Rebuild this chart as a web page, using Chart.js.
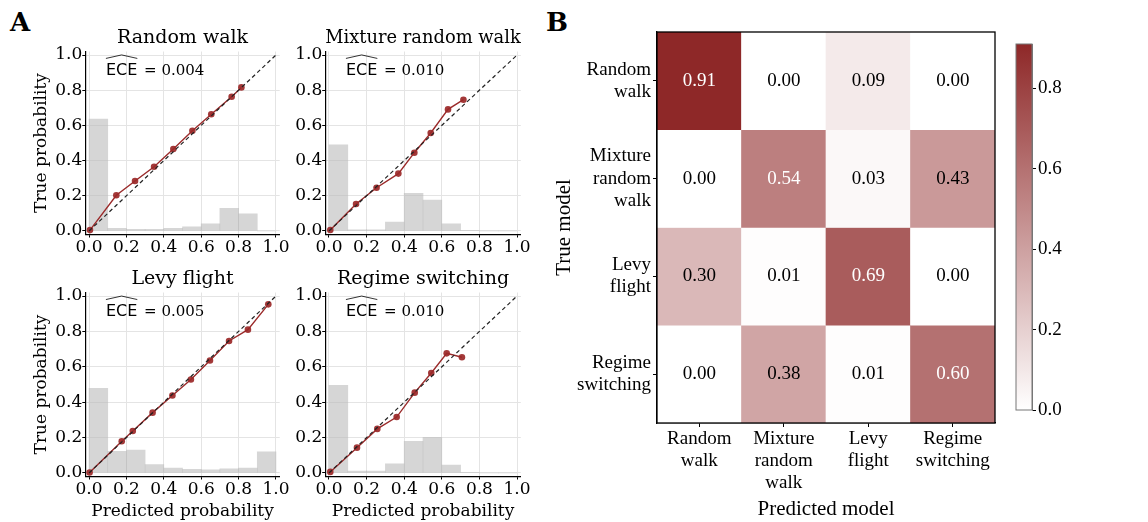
<!DOCTYPE html>
<html lang="en">
<head>
<meta charset="UTF-8">
<title>Calibration and confusion matrix</title>
<script src="https://cdn.jsdelivr.net/npm/chart.js"></script>
<style>
  body { margin: 0; background: #fff; }
  #fig { position: relative; width: 1148px; height: 522px; overflow: hidden; background: #fff; }
  canvas { position: absolute; }
  .panel { position: absolute; font-family: "DejaVu Serif", serif; font-weight: bold; font-size: 26px; line-height: 26px; color: #000; }
</style>
</head>
<body>
<div id="fig">
  <div class="panel" style="left:10px;top:9px">A</div>
  <div class="panel" style="left:546px;top:9px">B</div>
  <canvas id="rw" width="290" height="262" style="left:0;top:0"></canvas>
  <canvas id="mrw" width="250" height="262" style="left:290px;top:0"></canvas>
  <canvas id="lf" width="290" height="260" style="left:0;top:262px"></canvas>
  <canvas id="rs" width="250" height="260" style="left:290px;top:262px"></canvas>
  <canvas id="cm" width="470" height="522" style="left:540px;top:0"></canvas>
  <canvas id="cbar" width="148" height="522" style="left:1000px;top:0"></canvas>
</div>
<script>
// ---- data ----
const binCenters = [0.05, 0.15, 0.25, 0.35, 0.45, 0.55, 0.65, 0.75, 0.85, 0.95];
const probTicks = [0, 0.2, 0.4, 0.6, 0.8, 1.0];

// Random walk
const rwPredicted = [0.005, 0.146, 0.246, 0.348, 0.451, 0.553, 0.654, 0.763, 0.815];
const rwTrue      = [0.005, 0.203, 0.284, 0.365, 0.466, 0.570, 0.663, 0.763, 0.816];
const rwHist      = [0.636, 0.015, 0.010, 0.010, 0.015, 0.023, 0.040, 0.129, 0.097, 0];

// Mixture random walk
const mrwPredicted = [0.007, 0.144, 0.253, 0.369, 0.454, 0.541, 0.633, 0.715];
const mrwTrue      = [0.006, 0.153, 0.246, 0.326, 0.445, 0.557, 0.691, 0.746];
const mrwHist      = [0.489, 0.006, 0.006, 0.051, 0.214, 0.176, 0.040, 0.002, 0, 0];

// Levy flight
const lfPredicted = [0.003, 0.175, 0.234, 0.340, 0.446, 0.545, 0.647, 0.749, 0.850, 0.959];
const lfTrue      = [0.003, 0.179, 0.237, 0.341, 0.438, 0.528, 0.636, 0.746, 0.810, 0.953];
const lfHist      = [0.478, 0.122, 0.130, 0.047, 0.028, 0.021, 0.017, 0.023, 0.028, 0.119];

// Regime switching
const rsPredicted = [0.007, 0.149, 0.257, 0.360, 0.456, 0.544, 0.626, 0.707];
const rsTrue      = [0.006, 0.143, 0.249, 0.316, 0.454, 0.565, 0.676, 0.654];
const rsHist      = [0.495, 0.011, 0.011, 0.051, 0.179, 0.202, 0.044, 0.002, 0, 0];

// confusion matrix (rows = true model, cols = predicted model)
const predLabels = [['Random', 'walk'], ['Mixture', 'random', 'walk'], ['Levy', 'flight'], ['Regime', 'switching']];
const trueLabels = [['Random', 'walk'], ['Mixture', 'random', 'walk'], ['Levy', 'flight'], ['Regime', 'switching']];
const confRandomWalk  = [0.91, 0.00, 0.09, 0.00];
const confMixture     = [0.00, 0.54, 0.03, 0.43];
const confLevy        = [0.30, 0.01, 0.69, 0.00];
const confRegime      = [0.00, 0.38, 0.01, 0.60];
const confusion = [confRandomWalk, confMixture, confLevy, confRegime];
const cbarMax = 0.91;
const cbarTicks = [0, 0.2, 0.4, 0.6, 0.8];

Chart.defaults.font.family = '"DejaVu Serif", serif';
Chart.defaults.color = '#000';
Chart.defaults.animation = false;

const darkRed = [142, 40, 40];
function cellColor(v) {
    const t = Math.min(v / cbarMax, 1);
    const r = Math.round(255 + t * (darkRed[0] - 255));
    const g = Math.round(255 + t * (darkRed[1] - 255));
    const b = Math.round(255 + t * (darkRed[2] - 255));
    return `rgb(${r},${g},${b})`;
}

// ECE hat annotation
const ecePlugin = {
    id: 'ece',
    afterDraw(chart, args, opts) {
        if (!opts.value) return;
        const { ctx, chartArea: a } = chart;
        const x = a.left + 0.106 * (a.right - a.left);
        const y = a.top + 0.128 * (a.bottom - a.top);
        ctx.save();
        ctx.fillStyle = '#000';
        ctx.strokeStyle = '#000';
        ctx.textBaseline = 'alphabetic';
        ctx.textAlign = 'left';
        ctx.font = '16px "DejaVu Sans"';
        ctx.fillText('ECE', x, y);
        const w = ctx.measureText('ECE').width;
        ctx.beginPath();
        ctx.moveTo(x, y - 16.5);
        ctx.lineTo(x + w / 2, y - 20);
        ctx.lineTo(x + w, y - 16.5);
        ctx.lineWidth = 0.8;
        ctx.stroke();
        ctx.font = '15px "DejaVu Serif"';
        ctx.fillText(' = ' + opts.value, x + w + 2, y);
        ctx.restore();
    }
};

function calibChart(id, o) {
    const ctx = document.getElementById(id).getContext('2d');
    return new Chart(ctx, {
        type: 'bar',
        data: {
            datasets: [
                {
                    type: 'line',
                    data: [{ x: 0, y: 0 }, { x: 1, y: 1 }],
                    borderColor: '#222',
                    borderWidth: 1.2,
                    borderDash: [4, 3],
                    pointRadius: 0
                },
                {
                    type: 'line',
                    data: o.pred.map((p, i) => ({ x: p, y: o.truth[i] })),
                    borderColor: '#9b2b2b',
                    borderWidth: 1.4,
                    pointRadius: 3.3,
                    pointBackgroundColor: 'rgba(155,40,40,0.92)',
                    pointBorderWidth: 0,
                    tension: 0
                },
                {
                    type: 'bar',
                    data: binCenters.map((c, i) => ({ x: c, y: o.hist[i] })),
                    backgroundColor: 'rgba(185,185,185,0.58)',
                    borderWidth: 0,
                    barPercentage: 1,
                    categoryPercentage: 1
                }
            ]
        },
        options: {
            responsive: false,
            devicePixelRatio: 1,
            layout: { padding: { top: o.padTop, right: o.padRight, left: 0, bottom: 0 } },
            plugins: {
                legend: { display: false },
                tooltip: { enabled: false },
                title: {
                    display: true,
                    text: o.title,
                    fullSize: false,
                    font: { size: 19, weight: 'normal' },
                    padding: { top: 0, bottom: 2 },
                    color: '#000'
                },
                ece: { value: o.ece }
            },
            scales: {
                x: {
                    type: 'linear',
                    min: -0.02, max: 1.02,
                    offset: false,
                    afterBuildTicks: s => { s.ticks = probTicks.map(v => ({ value: v })); },
                    afterFit: s => { s.height = o.xHeight; },
                    ticks: { font: { size: 17 }, padding: 0, maxRotation: 0, callback: v => v.toFixed(1) },
                    grid: { color: '#e4e4e4', offset: false, tickColor: '#000', tickLength: 3 },
                    border: { color: '#000', width: 1.2 },
                    title: {
                        display: o.xTitle,
                        text: 'Predicted probability',
                        font: { size: 17 },
                        padding: { top: 0, bottom: 0.3 }
                    }
                },
                y: {
                    type: 'linear',
                    min: -0.02, max: 1.02,
                    afterBuildTicks: s => { s.ticks = probTicks.map(v => ({ value: v })); },
                    afterFit: s => { s.width = o.yWidth; },
                    ticks: { font: { size: 17 }, padding: 0, callback: v => v.toFixed(1) },
                    grid: { color: '#e4e4e4', tickColor: '#000', tickLength: 3 },
                    border: { color: '#000', width: 1.2 },
                    title: {
                        display: o.yTitle,
                        text: 'True probability',
                        font: { size: 17 },
                        padding: { top: 31.8, bottom: 0 }
                    }
                }
            }
        },
        plugins: [ecePlugin]
    });
}

calibChart('rw', { title: 'Random walk', pred: rwPredicted, truth: rwTrue, hist: rwHist, ece: '0.004',
    padTop: 26.7, padRight: 10.3, yWidth: 85.3, xHeight: 27.5, xTitle: false, yTitle: true });
calibChart('mrw', { title: 'Mixture random walk', pred: mrwPredicted, truth: mrwTrue, hist: mrwHist, ece: '0.010',
    padTop: 26.7, padRight: 19.2, yWidth: 35.2, xHeight: 27.5, xTitle: false, yTitle: false });
calibChart('lf', { title: 'Levy flight', pred: lfPredicted, truth: lfTrue, hist: lfHist, ece: '0.005',
    padTop: 5.7, padRight: 10.3, yWidth: 85.3, xHeight: 45.5, xTitle: true, yTitle: true });
calibChart('rs', { title: 'Regime switching', pred: rsPredicted, truth: rsTrue, hist: rsHist, ece: '0.010',
    padTop: 5.7, padRight: 19.2, yWidth: 35.2, xHeight: 45.5, xTitle: true, yTitle: false });

// ---- confusion matrix ----
const cellText = {
    id: 'cellText',
    afterDatasetsDraw(chart) {
        const { ctx, scales: { x, y } } = chart;
        ctx.save();
        ctx.font = '19px "Liberation Serif"';
        ctx.textAlign = 'center';
        ctx.textBaseline = 'middle';
        confusion.forEach((row, r) => {
            row.forEach((v, c) => {
                ctx.fillStyle = v > 0.5 ? '#fff' : '#000';
                ctx.fillText(v.toFixed(2), x.getPixelForValue(c), y.getPixelForValue(r + 0.5));
            });
        });
        ctx.restore();
    }
};
const frame = {
    id: 'frame',
    afterDraw(chart, args, opts) {
        const { ctx, chartArea: a } = chart;
        ctx.save();
        ctx.strokeStyle = opts.color || '#000';
        ctx.lineWidth = opts.width || 1.2;
        ctx.strokeRect(a.left, a.top, a.right - a.left, a.bottom - a.top);
        ctx.restore();
    }
};

new Chart(document.getElementById('cm').getContext('2d'), {
    type: 'bar',
    data: {
        labels: predLabels,
        datasets: confusion.map((row, r) => ({
            data: row.map(() => [r, r + 1]),
            backgroundColor: row.map(cellColor),
            borderWidth: 0,
            barPercentage: 1,
            categoryPercentage: 1,
            grouped: false
        }))
    },
    options: {
        responsive: false,
        devicePixelRatio: 1,
        layout: { padding: { top: 32, right: 15, left: 0, bottom: 0 } },
        plugins: { legend: { display: false }, tooltip: { enabled: false }, frame: { color: '#000', width: 1.3 } },
        scales: {
            x: {
                afterFit: s => { s.height = 99; },
                ticks: { font: { family: '"Liberation Serif"', size: 19, lineHeight: 1.17 }, padding: 0.5, maxRotation: 0, autoSkip: false },
                grid: { offset: false, drawOnChartArea: false, tickColor: '#000', tickLength: 4 },
                border: { color: '#000', width: 1.3 },
                title: {
                    display: true, text: 'Predicted model',
                    font: { family: '"Liberation Serif"', size: 21 },
                    padding: { top: 0, bottom: 0 }
                }
            },
            y: {
                type: 'linear', min: 0, max: 4, reverse: true,
                afterBuildTicks: s => { s.ticks = [0.5, 1.5, 2.5, 3.5].map(v => ({ value: v })); },
                afterFit: s => { s.width = 117; },
                ticks: { font: { family: '"Liberation Serif"', size: 19, lineHeight: 1.17 }, padding: 2,
                    callback: (v, i) => trueLabels[i] },
                grid: { drawOnChartArea: false, tickColor: '#000', tickLength: 4 },
                border: { color: '#000', width: 1.3 },
                title: {
                    display: true, text: 'True model',
                    font: { family: '"Liberation Serif"', size: 21 },
                    padding: { top: 11.4, bottom: 0 }
                }
            }
        }
    },
    plugins: [cellText, frame]
});

// ---- colorbar ----
new Chart(document.getElementById('cbar').getContext('2d'), {
    type: 'bar',
    data: {
        labels: ['scale'],
        datasets: [{
            data: [[0, cbarMax]],
            borderWidth: 0,
            barPercentage: 1,
            categoryPercentage: 1,
            backgroundColor: c => {
                const a = c.chart.chartArea;
                if (!a) return 'rgb(200,150,150)';
                const g = c.chart.ctx.createLinearGradient(0, a.bottom, 0, a.top);
                g.addColorStop(0, '#ffffff');
                g.addColorStop(1, `rgb(${darkRed.join(',')})`);
                return g;
            }
        }]
    },
    options: {
        responsive: false,
        devicePixelRatio: 1,
        layout: { padding: { top: 44, right: 0, left: 16, bottom: 112 } },
        plugins: { legend: { display: false }, tooltip: { enabled: false }, frame: { color: '#777', width: 1 } },
        scales: {
            x: { display: false },
            y: {
                position: 'right',
                min: 0, max: cbarMax,
                afterBuildTicks: s => { s.ticks = cbarTicks.map(v => ({ value: v })); },
                afterFit: s => { s.width = 116; },
                ticks: { font: { family: '"Liberation Serif"', size: 19 }, padding: 2, callback: v => v.toFixed(1) },
                grid: { drawOnChartArea: false, tickColor: '#000', tickLength: 4 },
                border: { color: '#777', width: 1 }
            }
        }
    },
    plugins: [frame]
});
</script>
</body>
</html>
